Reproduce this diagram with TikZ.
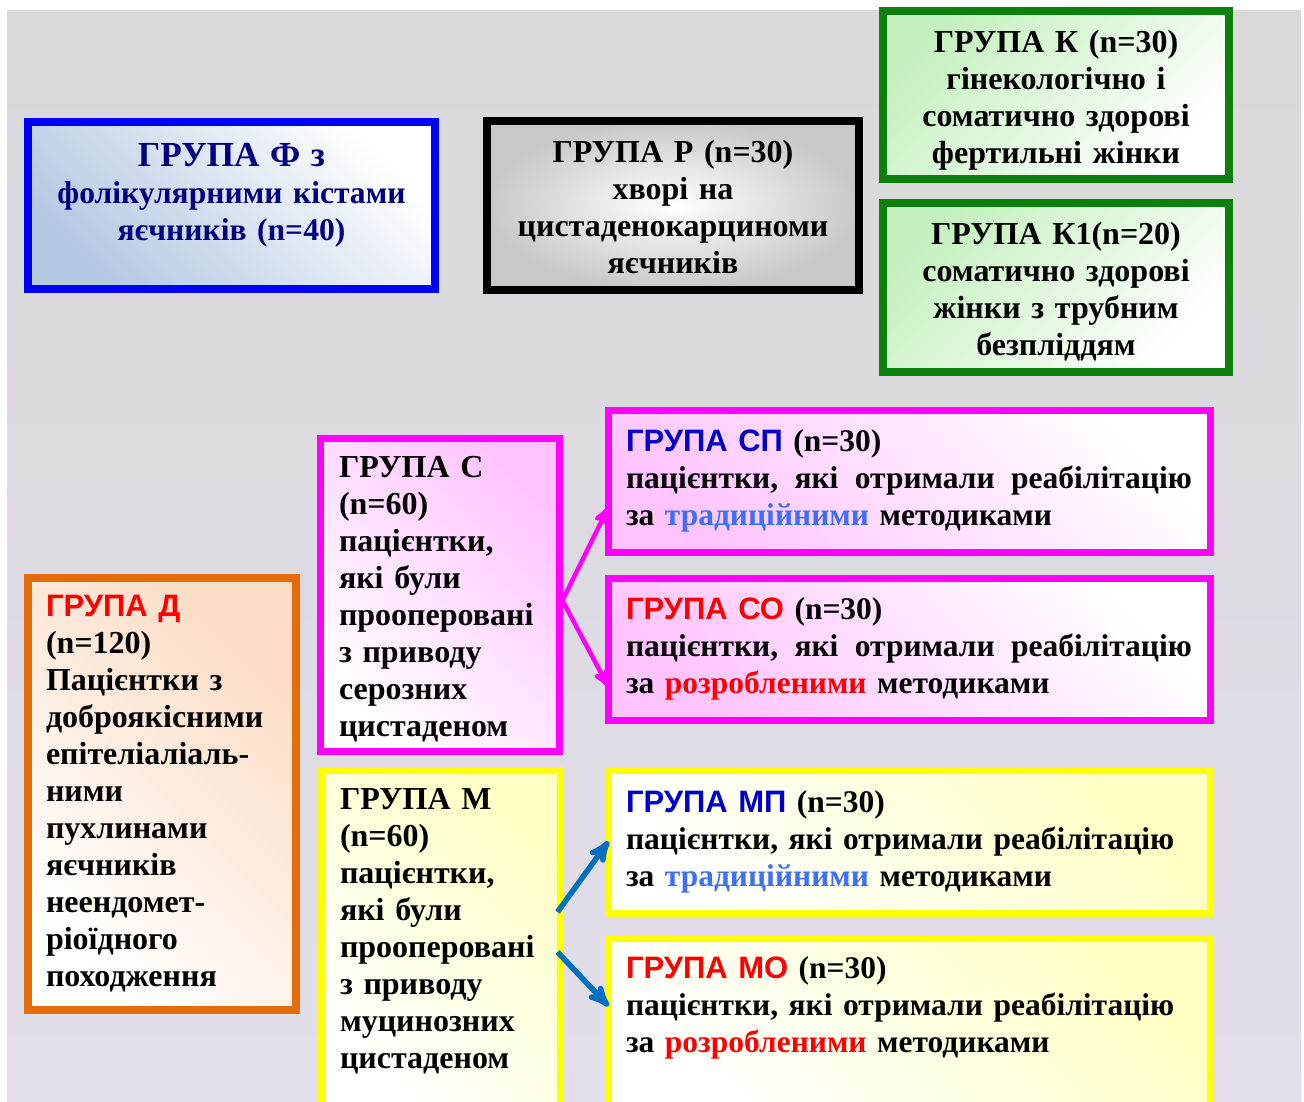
\documentclass[tikz,border=0pt]{standalone}
\usepackage{fontspec}
\setmainfont{Liberation Serif}
\newfontfamily\grpsans{Liberation Sans}
\usepackage{tikz}
\usetikzlibrary{arrows}
\definecolor{bgtop}{HTML}{D9D9D9}
\definecolor{bgbot}{HTML}{E1DDEA}
\definecolor{fblue}{HTML}{0000FF}
\definecolor{fnavy}{HTML}{000080}
\definecolor{flight}{HTML}{B4C8E2}
\definecolor{rgrey}{HTML}{C8C8C8}
\definecolor{kgreen}{HTML}{0B800B}
\definecolor{klight}{HTML}{C4F0BE}
\definecolor{dorange}{HTML}{E46C0A}
\definecolor{dpeach}{HTML}{FBDCC4}
\definecolor{cmag}{HTML}{FF00FF}
\definecolor{cpink}{HTML}{FFC4FF}
\definecolor{myel}{HTML}{FFFF00}
\definecolor{mlight}{HTML}{FFFFC4}
\definecolor{ablue}{HTML}{0070C0}
\definecolor{tblue}{HTML}{0000CC}
\definecolor{lblue}{HTML}{3F6FF5}
\newcommand{\grphead}[2]{{\grpsans\fontsize{31}{37}\selectfont\color{#1}#2}}
\newcommand{\spreadline}[1]{\leavevmode\hbox to \linewidth{#1}}
\tikzstyle{grp} = [draw, text centered, inner sep=0pt, font=\fontsize{32}{37}\selectfont\bfseries]
\tikzstyle{leftgrp} = [grp, align=left]
\tikzstyle{widegrp} = [leftgrp, line width=7pt, minimum width=602pt, text width=566pt, font=\fontsize{31.5}{37}\selectfont\bfseries]
\tikzset{
  line/.style ={draw, line width=5pt, -stealth', shorten >=0pt}
}

\begin{document}
\begin{tikzpicture}[x=1pt,y=-1pt]
	\useasboundingbox (0,0) rectangle (1304,1102);
	\shade[top color=bgtop, bottom color=bgbot] (7,11) rectangle (1301,1102);

	\node[grp, draw=fblue, line width=8pt, text=fnavy, top color=white, bottom color=flight, shading angle=-45, minimum width=407pt, minimum height=167pt, text width=395pt, text depth=102pt, font=\fontsize{31.6}{37}\selectfont\bfseries] (f) at (231.5,205.5) {{\fontsize{35.2}{37}\selectfont ГРУПА Ф з}\\фолікулярними кістами\\яєчників (n=40)};
	\node[grp, line width=8pt, inner color=white, outer color=rgrey, minimum width=372pt, minimum height=169pt, text width=360pt, text depth=107.5pt] (r) at (673,205.5) {ГРУПА Р (n=30)\\хворі на\\цистаденокарциноми\\яєчників};
	\node[grp, draw=kgreen, line width=8pt, top color=klight, bottom color=white, shading angle=45, minimum width=346pt, minimum height=168pt, text width=336pt, text depth=108pt] (k) at (1056,95) {ГРУПА К (n=30)\\гінекологічно і\\соматично здорові\\фертильні жінки};
	\node[grp, draw=kgreen, line width=8pt, top color=klight, bottom color=white, shading angle=45, minimum width=346pt, minimum height=169pt, text width=336pt, text depth=108pt] (k1) at (1056,287.5) {ГРУПА К1(n=20)\\соматично здорові\\жінки з трубним\\безпліддям};

	\node[leftgrp, draw=dorange, line width=7.5pt, top color=dpeach, bottom color=white, shading angle=-45, minimum width=268pt, minimum height=432pt, text width=232pt] (d) at (162,794) {\grphead{red}{ГРУПА Д}\\(n=120)\\Пацієнтки з\\доброякісними\\епітеліаліаль-\\ними\\пухлинами\\яєчників\\неендомет-\\ріоїдного\\походження};

	\node[leftgrp, draw=cmag, line width=7pt, top color=cpink, bottom color=white, shading angle=-45, minimum width=239pt, minimum height=313pt, text width=201pt, text depth=256pt] (c) at (439.5,594.5) {ГРУПА С\\(n=60)\\пацієнтки,\\які були\\прооперовані\\з приводу\\серозних\\цистаденом};
	\node[leftgrp, draw=myel, line width=7pt, top color=mlight, bottom color=white, shading angle=-45, minimum width=239pt, minimum height=336pt, text width=201pt, text depth=278pt] (m) at (440.5,938) {ГРУПА М\\(n=60)\\пацієнтки,\\які були\\прооперовані\\з приводу\\муцинозних\\цистаденом};

	\node[widegrp, draw=cmag, top color=white, bottom color=cpink, shading angle=-45, minimum height=142pt] (sp) at (909,481) {\grphead{tblue}{ГРУПА СП} (n=30)\\\spreadline{пацієнтки,\hfill які\hfill отримали\hfill реабілітацію}\\за {\color{lblue}традиційними} методиками};
	\node[widegrp, draw=cmag, top color=white, bottom color=cpink, shading angle=-45, minimum height=142pt] (so) at (909,649) {\grphead{red}{ГРУПА СО} (n=30)\\\spreadline{пацієнтки,\hfill які\hfill отримали\hfill реабілітацію}\\за {\color{red}розробленими} методиками};
	\node[widegrp, draw=myel, top color=mlight, bottom color=white, shading angle=-45, minimum height=143pt] (mp) at (909,841.5) {\grphead{tblue}{ГРУПА МП} (n=30)\\пацієнтки, які отримали реабілітацію\\за {\color{lblue}традиційними} методиками};
	\node[widegrp, draw=myel, top color=mlight, bottom color=white, shading angle=-45, minimum height=168pt, text depth=109pt] (mo) at (909,1022) {\grphead{red}{ГРУПА МО} (n=30)\\пацієнтки, які отримали реабілітацію\\за {\color{red}розробленими} методиками};

	\draw [line, line width=4.5pt, draw=cmag] ([yshift=-6pt]c.east) -- ([xshift=4pt,yshift=-26pt]sp.west);
	\draw [line, line width=4.5pt, draw=cmag] ([yshift=-6pt]c.east) -- ([xshift=4pt,yshift=-38pt]so.west);
	\draw [line, line width=5.5pt, draw=ablue] ([xshift=-6pt,yshift=26pt]m.east) -- ([xshift=4pt]mp.west);
	\draw [line, line width=5.5pt, draw=ablue] ([xshift=-6pt,yshift=-14pt]m.east) -- ([xshift=4pt,yshift=16pt]mo.west);
\end{tikzpicture}
\end{document}
